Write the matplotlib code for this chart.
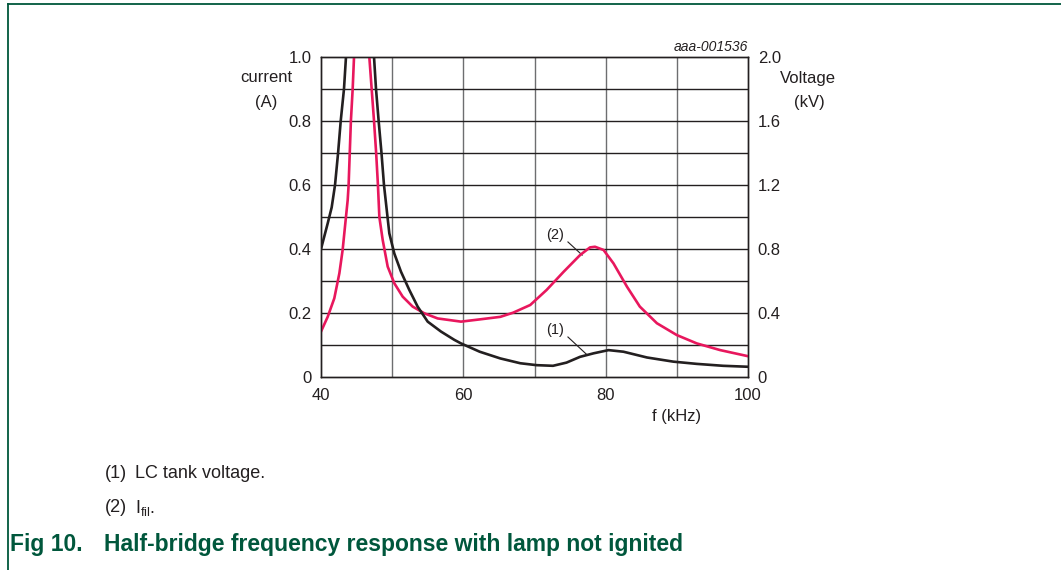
import matplotlib
matplotlib.use('Agg')
import matplotlib.pyplot as plt
from matplotlib.lines import Line2D

plt.rcParams['font.family'] = ['Liberation Sans', 'DejaVu Sans']

# I_fil (A), curve (2), left axis
ifil_f = [40.0, 40.94, 41.87, 42.58, 43.04, 43.37, 43.75, 43.88, 44.2, 44.45, 44.64, 44.75,
          46.65, 46.79, 47.12, 47.45, 47.75, 48.0, 48.2, 48.67, 49.37, 50.3, 51.48, 52.88,
          54.52, 56.39, 59.67, 62.3, 65.2, 67.0, 69.4, 71.7, 74.1, 76.4, 77.8, 78.5, 79.7,
          81.1, 83.0, 84.8, 87.2, 90.0, 92.8, 96.1, 100.0]
ifil_a = [0.142, 0.188, 0.246, 0.324, 0.397, 0.470, 0.553, 0.600, 0.800, 0.900, 1.0, 1.1,
          1.1, 1.0, 0.900, 0.800, 0.700, 0.600, 0.500, 0.428, 0.345, 0.293, 0.251, 0.220,
          0.199, 0.183, 0.173, 0.180, 0.188, 0.201, 0.225, 0.272, 0.329, 0.381, 0.405, 0.407, 0.397,
          0.355, 0.282, 0.220, 0.168, 0.131, 0.105, 0.084, 0.065]

# LC tank voltage (kV), curve (1), right axis
vlc_f = [40.0, 40.94, 41.5, 41.97, 42.4, 42.77, 43.23, 43.51, 43.65,
         47.3, 47.45, 47.73, 48.1, 48.5, 48.85, 49.6, 50.3, 51.24, 52.41, 53.58, 54.99,
         56.86, 58.74, 59.67, 62.3, 65.2, 68.0, 70.3, 72.6, 74.5, 76.4, 78.3, 80.4,
         82.5, 85.8, 89.5, 92.8, 96.5, 100.0]
vlc_kv = [0.80, 0.96, 1.06, 1.20, 1.40, 1.60, 1.80, 2.0, 2.2,
          2.2, 2.0, 1.80, 1.60, 1.40, 1.20, 0.898, 0.772, 0.658, 0.544, 0.440, 0.346,
          0.284, 0.232, 0.210, 0.158, 0.116, 0.086, 0.074, 0.070, 0.090, 0.126, 0.148, 0.168,
          0.158, 0.122, 0.096, 0.082, 0.070, 0.064]

left_ticks = [0, 0.2, 0.4, 0.6, 0.8, 1.0]
left_labels = ['0', '0.2', '0.4', '0.6', '0.8', '1.0']
right_ticks = [0, 0.4, 0.8, 1.2, 1.6, 2.0]
right_labels = ['0', '0.4', '0.8', '1.2', '1.6', '2.0']
x_ticks = [40, 60, 80, 100]

red = '#e8175d'
black = '#231f20'
green = '#00573c'
txt = '#231f20'

fig = plt.figure(figsize=(10.61, 5.70), dpi=100)
ax = fig.add_axes([321 / 1061, 1 - 377 / 570, 427 / 1061, 320 / 570])
ax2 = ax.twinx()

ax.set_xlim(40, 100)
ax.set_ylim(0, 1.0)
ax2.set_ylim(0, 2.0)

# grid: vertical every 10 kHz (gray), horizontal every 0.1 (black)
for xv in range(50, 100, 10):
    ax.axvline(xv, color='#6d6e70', lw=1.0, zorder=1)
for i in range(1, 10):
    ax.axhline(i / 10, color=black, lw=1.0, zorder=1)

ax.plot(ifil_f, ifil_a, color=red, lw=1.9, zorder=3, solid_joinstyle='round')
ax2.plot(vlc_f, vlc_kv, color=black, lw=1.9, zorder=3, solid_joinstyle='round')

ax.set_xticks(x_ticks)
ax.set_xticklabels([str(v) for v in x_ticks])
ax.set_yticks(left_ticks)
ax.set_yticklabels(left_labels)
ax2.set_yticks(right_ticks)
ax2.set_yticklabels(right_labels)
ax.tick_params(length=0, labelsize=12, colors=txt, pad=8)
ax.tick_params(axis='y', pad=7)
ax2.tick_params(length=0, labelsize=12, colors=txt, pad=7)
for a in (ax, ax2):
    for s in a.spines.values():
        s.set_color(black)
        s.set_linewidth(1.0)

# curve labels
ax.text(72.9, 0.444, '(2)', fontsize=10.5, color=txt, ha='center', va='center')
ax.add_line(Line2D([74.7, 76.7], [0.422, 0.381], color=txt, lw=0.8))
ax.text(72.9, 0.147, '(1)', fontsize=10.5, color=txt, ha='center', va='center')
ax.add_line(Line2D([74.7, 77.4], [0.125, 0.069], color=txt, lw=0.8))

# axis titles
fig.text(266 / 1061, 1 - 78 / 570, 'current', fontsize=12, color=txt, ha='center', va='center')
fig.text(266 / 1061, 1 - 102 / 570, '(A)', fontsize=12, color=txt, ha='center', va='center')
fig.text(808 / 1061, 1 - 78 / 570, 'Voltage', fontsize=12, color=txt, ha='center', va='center')
fig.text(809 / 1061, 1 - 102 / 570, '(kV)', fontsize=12, color=txt, ha='center', va='center')
fig.text(677 / 1061, 1 - 417 / 570, 'f (kHz)', fontsize=12, color=txt, ha='center', va='center')
fig.text(748 / 1061, 1 - 47 / 570, 'aaa-001536', fontsize=10, style='italic', color=txt,
         ha='right', va='center')

# notes and caption
fig.text(105 / 1061, 1 - 473 / 570, '(1)', fontsize=13, color=txt, va='center')
fig.text(135 / 1061, 1 - 473 / 570, 'LC tank voltage.', fontsize=13, color=txt, va='center')
fig.text(105 / 1061, 1 - 508 / 570, '(2)', fontsize=13, color=txt, va='center')
fig.text(135 / 1061, 1 - 508 / 570, r'I$_{\mathregular{fil}}$.', fontsize=13, color=txt, va='center')
fig.text(10 / 1061, 1 - 545 / 570, 'Fig 10.', fontsize=16.5, weight='bold', color=green, va='center')
fig.text(104 / 1061, 1 - 545 / 570, 'Half-bridge frequency response with lamp not ignited', fontsize=16.5,
         weight='bold', color=green, va='center')

# page frame
fig.add_artist(Line2D([8 / 1061, 8 / 1061], [0, 1 - 4 / 570], color=green, lw=1.3))
fig.add_artist(Line2D([8 / 1061, 1], [1 - 4 / 570, 1 - 4 / 570], color=green, lw=1.3))

fig.savefig('out.png', dpi=100)
